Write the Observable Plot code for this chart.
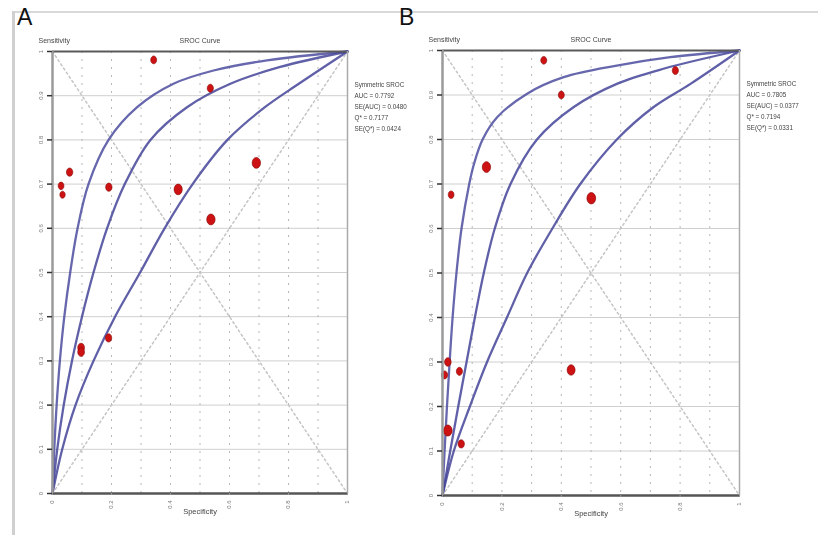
<!DOCTYPE html>
<html><head><meta charset="utf-8">
<script src="https://cdn.jsdelivr.net/npm/d3@7"></script>
<script src="https://cdn.jsdelivr.net/npm/@observablehq/plot@0.6"></script>
<style>
body{margin:0;background:#fff;font-family:Arial,"Liberation Sans",sans-serif;}
#wrap{position:relative;width:818px;height:535px;overflow:hidden;background:#fff;}
.frameTop{position:absolute;left:12px;top:11px;width:806px;height:0;border-top:2px solid #d8d8d8;}
.frameLeft{position:absolute;left:12px;top:11px;width:0;height:524px;border-left:3px solid #d0d0d0;}
.panel{position:absolute;top:0;}
.panel svg{filter:blur(0.35px);}
.lab{position:absolute;top:6px;font-size:23px;color:#111;line-height:1;}
</style></head><body>
<div id="wrap">
  <div class="frameTop"></div>
  <div class="frameLeft"></div>
  <div class="panel" id="pA" style="left:0px"></div>
  <div class="panel" id="pB" style="left:390px"></div>
  <div class="lab" style="left:17px">A</div>
  <div class="lab" style="left:399px">B</div>
</div>
<script>
// ---- tick values ----
const ticksY = [0, 0.1, 0.2, 0.3, 0.4, 0.5, 0.6, 0.7, 0.8, 0.9, 1];
const ticksX = [0, 0.2, 0.4, 0.6, 0.8, 1];
const gridX = [0.1, 0.2, 0.3, 0.4, 0.5, 0.6, 0.7, 0.8, 0.9];
const diagX = [0, 1];
const diagUpY = [0, 1];
const diagDownY = [1, 0];

// ---- Panel A: studies (1-specificity, sensitivity, weight) ----
const studyA_x = [0.343, 0.535, 0.691, 0.058, 0.029, 0.034, 0.191, 0.426, 0.537, 0.097, 0.097, 0.190];
const studyA_y = [0.981, 0.917, 0.748, 0.727, 0.696, 0.676, 0.693, 0.688, 0.620, 0.330, 0.320, 0.352];
const studyA_w = [3, 3.1, 4.2, 3.2, 2.9, 2.7, 3.2, 4.1, 4.2, 3.4, 3.4, 3.2];
// Panel A: SROC curve points
const curveA1_x = [0, 0.006, 0.014, 0.025, 0.04, 0.06, 0.085, 0.122, 0.19, 0.287, 0.41, 0.546, 0.727, 1];
const curveA1_y = [0, 0.1, 0.2, 0.3, 0.4, 0.5, 0.6, 0.7, 0.8, 0.874, 0.927, 0.957, 0.98, 1];
const curveA2_x = [0, 0.016, 0.038, 0.066, 0.1, 0.139, 0.185, 0.245, 0.332, 0.456, 0.603, 0.772, 1];
const curveA2_y = [0, 0.1, 0.2, 0.3, 0.4, 0.5, 0.6, 0.7, 0.8, 0.874, 0.927, 0.965, 1];
const curveA3_x = [0, 0.033, 0.078, 0.139, 0.212, 0.297, 0.38, 0.475, 0.593, 0.72, 0.835, 1];
const curveA3_y = [0, 0.1, 0.2, 0.3, 0.4, 0.5, 0.6, 0.7, 0.8, 0.874, 0.927, 1];
const legendA = ["Symmetric SROC", "AUC = 0.7792", "SE(AUC) = 0.0480", "Q* = 0.7177", "SE(Q*) = 0.0424"];

// ---- Panel B ----
const studyB_x = [0.341, 0.784, 0.400, 0.148, 0.029, 0.501, 0.018, 0.007, 0.057, 0.433, 0.018, 0.063];
const studyB_y = [0.978, 0.955, 0.900, 0.738, 0.676, 0.668, 0.300, 0.271, 0.279, 0.282, 0.146, 0.116];
const studyB_w = [3, 3.1, 3, 4.2, 2.9, 4.4, 3.3, 3.1, 3.1, 4, 4.3, 3.2];
const curveB1_x = [0, 0.007, 0.015, 0.024, 0.034, 0.047, 0.064, 0.09, 0.106, 0.135, 0.184, 0.285, 0.408, 0.587, 0.767, 1];
const curveB1_y = [0, 0.1, 0.2, 0.3, 0.4, 0.5, 0.6, 0.7, 0.745, 0.8, 0.85, 0.903, 0.94, 0.966, 0.985, 1];
const curveB2_x = [0, 0.026, 0.053, 0.081, 0.109, 0.139, 0.176, 0.229, 0.318, 0.442, 0.587, 0.744, 1];
const curveB2_y = [0, 0.1, 0.2, 0.3, 0.4, 0.5, 0.6, 0.7, 0.8, 0.873, 0.925, 0.959, 1];
const curveB3_x = [0, 0.038, 0.092, 0.15, 0.217, 0.285, 0.37, 0.464, 0.587, 0.711, 0.835, 1];
const curveB3_y = [0, 0.1, 0.2, 0.3, 0.4, 0.5, 0.6, 0.7, 0.8, 0.873, 0.925, 1];
const legendB = ["Symmetric SROC", "AUC = 0.7805", "SE(AUC) = 0.0377", "Q* = 0.7194", "SE(Q*) = 0.0331"];

const zip = (xs, ys, ws) => xs.map((x, i) => ({x, y: ys[i], w: ws ? ws[i] : 1}));
const fmt = d => d === 0 ? "0" : d === 1 ? "1" : d3.format(".1f")(d);

// vertically stretched ellipse symbol (the original figure is stretched vertically)
const ellipse = {
  draw(ctx, size) {
    const r = Math.sqrt(size / Math.PI), rx = r, ry = r * 1.3, k = 0.5523;
    ctx.moveTo(rx, 0);
    ctx.bezierCurveTo(rx, ry * k, rx * k, ry, 0, ry);
    ctx.bezierCurveTo(-rx * k, ry, -rx, ry * k, -rx, 0);
    ctx.bezierCurveTo(-rx, -ry * k, -rx * k, -ry, 0, -ry);
    ctx.bezierCurveTo(rx * k, -ry, rx, -ry * k, rx, 0);
    ctx.closePath();
  }
};

function panel({width, marginRight, marginTop, marginBottom, studies, curves, legend}) {
  const curveMarks = curves.map((c, i) => Plot.line(c, {
    x: "x", y: "y", curve: "catmull-rom",
    stroke: i === 0 ? "#4c4c9f" : "#444499", strokeWidth: 2.3, strokeOpacity: 0.85
  }));
  return Plot.plot({
    width, height: 535,
    marginLeft: 52, marginRight, marginTop, marginBottom,
    x: {domain: [0, 1]}, y: {domain: [0, 1]},
    r: {type: "identity"},
    style: {background: "transparent", fontFamily: "Arial, 'Liberation Sans', sans-serif", color: "#666"},
    marks: [
      Plot.ruleY(ticksY.slice(1, -1), {stroke: "#cfcfcf", strokeWidth: 1}),
      Plot.ruleX(gridX, {stroke: "#b8b8b8", strokeWidth: 1, strokeDasharray: "2,6"}),
      Plot.line(zip(diagX, diagUpY), {x: "x", y: "y", stroke: "#c4c4c4", strokeDasharray: "2,3"}),
      Plot.line(zip(diagX, diagDownY), {x: "x", y: "y", stroke: "#c4c4c4", strokeDasharray: "2,3"}),
      ...curveMarks,
      Plot.dot(studies, {x: "x", y: "y", r: "w", symbol: ellipse, fill: "#cc1212", stroke: "#8a0a0a", strokeWidth: 0.6}),
      Plot.ruleY([1], {stroke: "#5a5a5a", strokeWidth: 2}),
      Plot.ruleY([0], {stroke: "#555", strokeWidth: 2.5}),
      Plot.ruleX([0], {stroke: "#9a9a9a", strokeWidth: 2.5}),
      Plot.ruleX([1], {stroke: "#aaa", strokeWidth: 1.5}),
      Plot.axisY({ticks: ticksY, tickFormat: fmt, tickSize: 5, tickPadding: 5, tickRotate: -90,
        fontSize: 6, stroke: "#333", strokeWidth: 1.5, label: null, fill: "#777"}),
      Plot.axisX({ticks: ticksX, tickFormat: fmt, tickSize: 2, tickPadding: 5, tickRotate: -90,
        fontSize: 6, label: null, fill: "#777", stroke: "#999"}),
      Plot.text(["SROC Curve"], {frameAnchor: "top", dy: -13, fontSize: 7, fill: "#444"}),
      Plot.text(["Sensitivity"], {frameAnchor: "top-left", dy: -13, dx: -14, textAnchor: "start", fontSize: 7, fill: "#444"}),
      Plot.text(["Specificity"], {frameAnchor: "bottom", dy: 20, fontSize: 7.5, fill: "#444"}),
      Plot.text([legend.join("\n")], {frameAnchor: "top-right", textAnchor: "start", lineAnchor: "top",
        dx: 7, dy: 28, lineHeight: 1.75, fontSize: 6.3, fill: "#444"})
    ]
  });
}

document.getElementById("pA").append(panel({
  width: 409, marginRight: 62, marginTop: 51, marginBottom: 42,
  studies: zip(studyA_x, studyA_y, studyA_w),
  curves: [zip(curveA1_x, curveA1_y), zip(curveA2_x, curveA2_y), zip(curveA3_x, curveA3_y)],
  legend: legendA
}));
document.getElementById("pB").append(panel({
  width: 428, marginRight: 79, marginTop: 50, marginBottom: 40,
  studies: zip(studyB_x, studyB_y, studyB_w),
  curves: [zip(curveB1_x, curveB1_y), zip(curveB2_x, curveB2_y), zip(curveB3_x, curveB3_y)],
  legend: legendB
}));
</script>
</body></html>
